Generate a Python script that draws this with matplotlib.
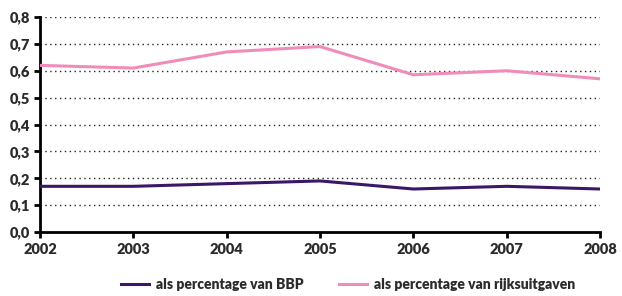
import matplotlib
matplotlib.use("Agg")
import matplotlib.pyplot as plt

years = [2002, 2003, 2004, 2005, 2006, 2007, 2008]
bbp = [0.17, 0.17, 0.18, 0.19, 0.16, 0.17, 0.16]
rijks = [0.62, 0.61, 0.67, 0.69, 0.585, 0.60, 0.57]
yticks = [0.0, 0.1, 0.2, 0.3, 0.4, 0.5, 0.6, 0.7, 0.8]
ylabels = ["0,0", "0,1", "0,2", "0,3", "0,4", "0,5", "0,6", "0,7", "0,8"]

plt.rcParams['font.family'] = ['Lato', 'DejaVu Sans']
tc = '#2b2b2b'

fig = plt.figure(figsize=(6.22, 2.96), dpi=100)
ax = fig.add_axes([40/622, 64/296, 560/622, 215/296])

ax.plot(years, bbp, color='#3b1768', lw=2.2, label='als percentage van BBP', zorder=3)
ax.plot(years, rijks, color='#f08cba', lw=2.2, label='als percentage van rijksuitgaven', zorder=3)

ax.set_xlim(2002, 2008)
ax.set_ylim(0, 0.8)
ax.set_yticks(yticks)
ax.set_yticklabels(ylabels)
ax.set_xticks(years)
ax.set_xticklabels([str(y) for y in years])
for t in ax.get_xticklabels() + ax.get_yticklabels():
    t.set_fontweight('heavy')
    t.set_fontsize(10.5)
    t.set_color(tc)

ax.yaxis.grid(True, linestyle=(0, (1, 2.5)), color='#222222', lw=1.0)
ax.set_axisbelow(True)
for s in ['top', 'right']:
    ax.spines[s].set_visible(False)
for s in ['left', 'bottom']:
    ax.spines[s].set_linewidth(2)
    ax.spines[s].set_color('black')
ax.tick_params(axis='both', width=2, length=4, color='black')
ax.tick_params(axis='y', pad=3)
ax.tick_params(axis='x', pad=4)

leg = ax.legend(loc='center', bbox_to_anchor=(0.55, -0.245), ncol=2, frameon=False,
                prop={'weight': 'heavy', 'size': 10}, handlelength=2.0, columnspacing=2.6,
                handletextpad=0.5)
for t in leg.get_texts():
    t.set_color(tc)

fig.savefig('out.png', dpi=100)
